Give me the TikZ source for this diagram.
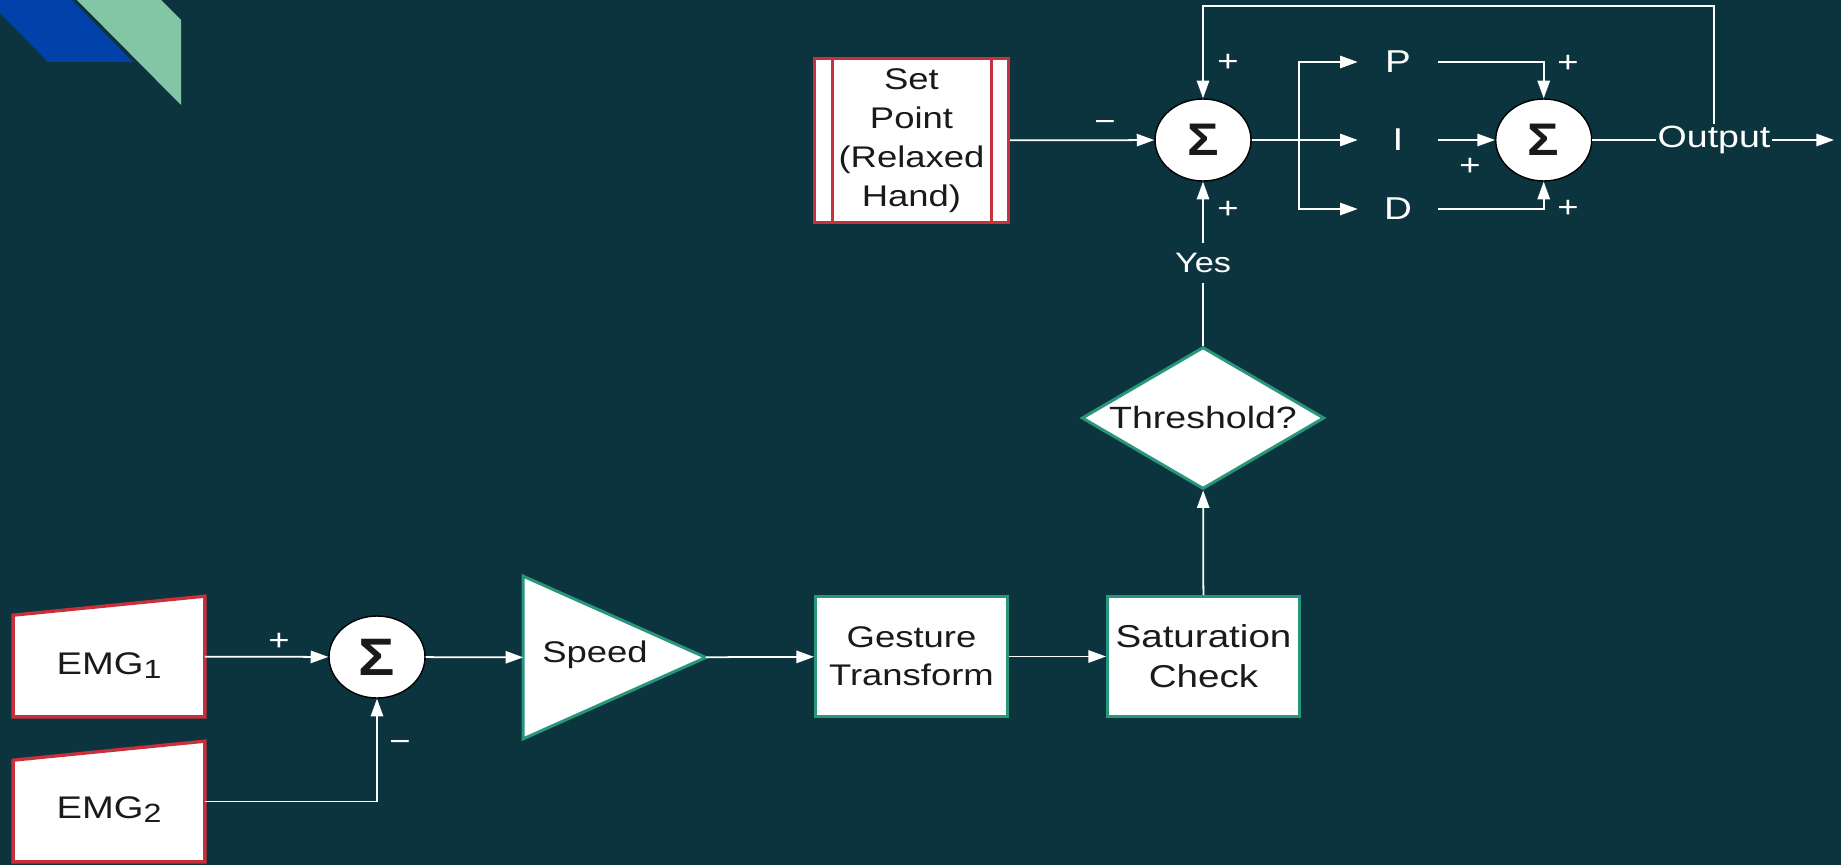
\documentclass[tikz,border=0pt]{standalone}
\usepackage{fontspec}
\setmainfont{Liberation Sans}[FakeStretch=1.22]
\newfontfamily\sigmafont{Liberation Sans}[FakeStretch=1.15]
\usepackage{tikz}
\usetikzlibrary{arrows.meta, positioning, shapes, calc}

\definecolor{bgteal}{RGB}{12,52,62}
\definecolor{cornerblue}{RGB}{0,65,170}
\definecolor{cornergreen}{RGB}{131,198,166}
\definecolor{inred}{RGB}{200,48,60}
\definecolor{procgreen}{RGB}{40,150,122}
\definecolor{inktext}{RGB}{26,26,26}

\newcommand{\boxfont}{\fontsize{17}{21.6}\selectfont}
\newcommand{\bigfont}{\fontsize{17.8}{22.6}\selectfont}
\newcommand{\setfont}{\fontsize{17}{22.2}\selectfont}
\newcommand{\signfont}{\fontsize{17}{17}\selectfont}
\newcommand{\emgsub}[1]{\raisebox{-2.5pt}{\fontsize{15}{15}\selectfont #1}}

\tikzset{
    wire/.style={draw=white, line width=1pt},
    arr/.style={wire, -{Triangle[length=10pt, width=7pt]}},
    emgbox/.style={minimum width=3.82cm, minimum height=2.4cm, inner sep=0pt},
    inline/.style={draw=inred, line width=1.9pt},
    setbox/.style={inline, fill=white, minimum width=3.88cm, minimum height=3.28cm, inner sep=0pt, align=center, text=inktext, font=\setfont},
    procbox/.style={draw=procgreen, line width=1.7pt, fill=white, minimum height=2.4cm, inner sep=0pt, align=center, text=inktext, font=\boxfont},
    spdbox/.style={minimum width=3.64cm, minimum height=3.24cm, inner sep=0pt},
    decision/.style={diamond, aspect=1.7, draw=procgreen, line width=1.7pt, fill=white, minimum width=4.85cm, minimum height=2.84cm, inner sep=0pt, text=inktext, font={\fontsize{17.5}{21}\selectfont}},
    boxtext/.style={text=inktext, inner sep=0pt, font=\boxfont},
    sumnode/.style={ellipse, draw=black, line width=0.8pt, fill=white, minimum width=1.92cm, minimum height=1.64cm, inner sep=0pt, text=inktext, font={\sigmafont\bfseries\fontsize{26}{26}\selectfont}},
    sign/.style={text=white, inner sep=0pt, font=\signfont},
    lbl/.style={text=white, inner sep=1pt, font={\fontsize{17.5}{17.5}\selectfont}},
    pid/.style={lbl, inner sep=0pt, minimum width=1.6cm, font={\fontsize{18}{18}\selectfont}},
}

\begin{document}
\begin{tikzpicture}[x=0.02cm, y=-0.02cm]
    % Background
    \fill[bgteal] (0,0) rectangle (1841,865);
    \useasboundingbox (0,0) rectangle (1841,865);

    % Corner
    \fill[cornerblue] (0,0) -- (72,0) -- (133,62) -- (48,62) -- (0,13) -- cycle;
    \fill[cornergreen] (77,0) -- (161,0) -- (181,20) -- (181,105) -- cycle;

    % EMG inputs
    \node[emgbox] (emgA) at (109,656.5) {};
    \node[emgbox] (emgB) at (109,801.5) {};
    \foreach \n in {emgA, emgB}
        \draw[inline, fill=white] (\n.south west) -- (\n.south east) -- (\n.north east) -- ([yshift=-0.38cm]\n.north west) -- cycle;
    \node[boxtext, font=\bigfont, anchor=base] (emgAtext) at (109,674) {EMG\emgsub{1}};
    \node[boxtext, font=\bigfont, anchor=base] (emgBtext) at (109,818) {EMG\emgsub{2}};

    % Difference
    \node[sumnode, font={\sigmafont\bfseries\fontsize{30}{30}\selectfont}] (sumA) at (377,657) {Σ};
    \draw[arr] (emgA) -- (sumA);
    \draw[arr] (emgB) -| (sumA);
    \node[sign] (pA) at (279,642) {+};
    \node[sign] (mA) at (400,746) {−};

    % Speed gain
    \node[spdbox] (spd) at (614.5,657.5) {};
    \draw[draw=procgreen, line width=1.7pt, fill=white] (spd.north west) -- (spd.east) -- (spd.south west) -- cycle;
    \node[boxtext, anchor=base] (spdtext) at (595,662) {Speed};
    \draw[arr] (sumA) -- (spd);

    % Processing
    \node[procbox, minimum width=3.84cm] (gest) at (911.5,656.5) {Gesture\\Transform};
    \node[procbox, minimum width=3.84cm, font={\fontsize{18}{22.6}\selectfont}] (sat) at (1203.5,656.5) {Saturation\\Check};
    \node[decision] (thr) at (1203,418) {Threshold?};
    \draw[arr] (spd) -- (gest);
    \draw[arr] (gest) -- (sat);
    \draw[arr] (sat) -- (thr);

    % Set point
    \node[setbox] (setpt) at (911.5,140.5) {Set\\Point\\(Relaxed\\Hand)};
    \draw[inline] ([xshift=0.39cm]setpt.north west) -- ([xshift=0.39cm]setpt.south west);
    \draw[inline] ([xshift=-0.38cm]setpt.north east) -- ([xshift=-0.38cm]setpt.south east);

    % Error
    \node[sumnode] (sumB) at (1203,140) {Σ};
    \node[lbl, font={\fontsize{16}{16}\selectfont}, inner ysep=5.5pt] (yes) at (1203,263) {Yes};
    \draw[arr] (setpt) -- (sumB);
    \draw[wire] (thr) -- (yes);
    \draw[arr] (yes) -- (sumB);
    \node[sign] (mB) at (1105,126) {−};
    \node[sign] (pB1) at (1228,63) {+};
    \node[sign] (pB2) at (1228,210) {+};

    % PID
    \coordinate (split) at (1299,140);
    \node[pid] (P) at (1398,62) {P};
    \node[pid] (I) at (1398,140) {I};
    \node[pid] (D) at (1398,209) {D};
    \draw[wire] (sumB) -- (split);
    \draw[arr] (split) |- (P);
    \draw[arr] (split) -- (I);
    \draw[arr] (split) |- (D);

    % Output
    \node[sumnode] (sumC) at (1543.7,140) {Σ};
    \draw[arr] (P) -| (sumC);
    \draw[arr] (I) -- (sumC);
    \draw[arr] (D) -| (sumC);
    \node[sign] (pC1) at (1568,64) {+};
    \node[sign] (pC2) at (1470,167) {+};
    \node[sign] (pC3) at (1568,209) {+};
    \node[lbl] (outp) at (1714,140) {Output};
    \coordinate (outEnd) at (1834,140);
    \draw[wire] (sumC) -- (outp);
    \draw[arr] (outp) -- (outEnd);
    \draw[arr] (outp.north) -- ++(0,-118) -| (sumB.north);
\end{tikzpicture}
\end{document}
